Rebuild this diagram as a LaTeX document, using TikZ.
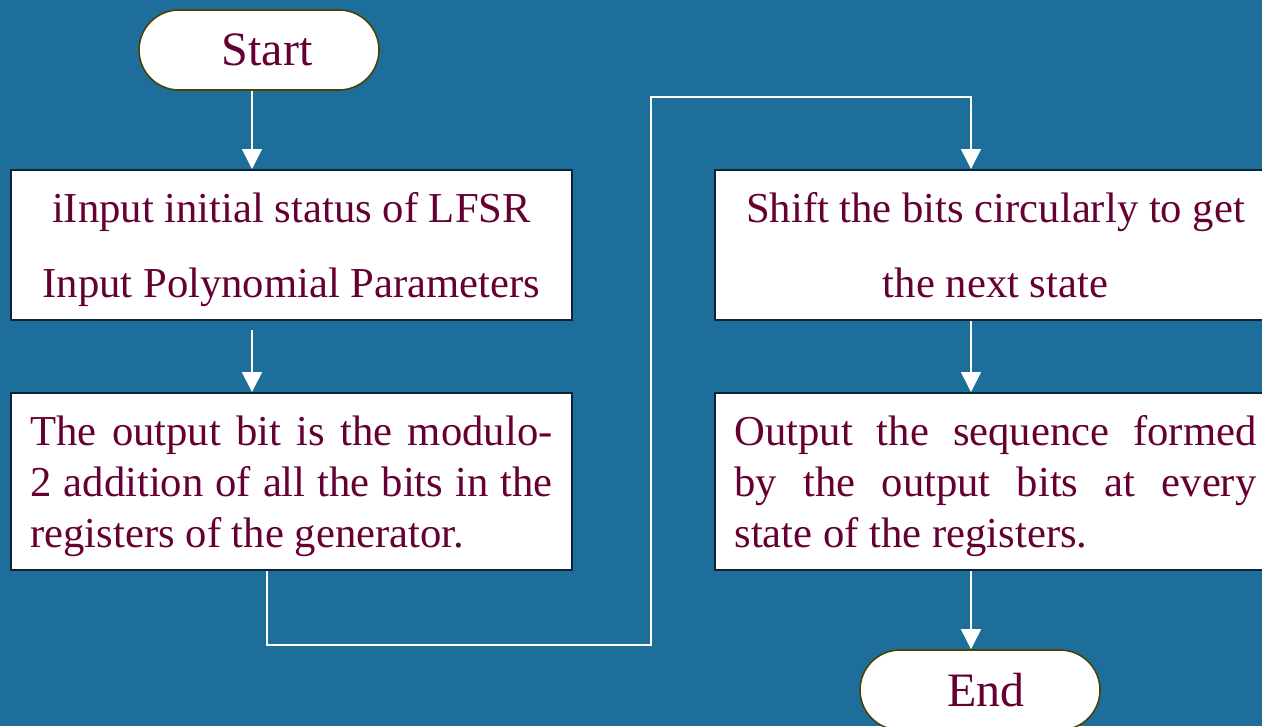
\documentclass[tikz,border=0pt]{standalone}
\usepackage{fontspec}
\setmainfont{Liberation Serif}
\usetikzlibrary{arrows.meta}
\definecolor{bg}{HTML}{1D6E9A}
\definecolor{ink}{HTML}{660033}
\definecolor{capline}{HTML}{4A4200}
\definecolor{boxline}{HTML}{0D2438}

% a line set flush to both margins of a step box
\newcommand{\fullline}[1]{\makebox[391.5pt][s]{\spaceskip=.25em plus .6em minus .1em\relax #1}}
% fixed line extent so every box places its lines the same way
\newcommand{\topstrut}{\rule{0pt}{30pt}}
\newcommand{\botstrut}{\rule[-7.5pt]{0pt}{7.5pt}}

\begin{document}
\begin{tikzpicture}[x=0.75pt,y=-0.75pt,
  terminal/.style={draw=capline, line width=1.2pt, fill=white, rounded corners=30pt,
    minimum width=180pt, minimum height=60pt, inner sep=0pt, text=ink,
    font=\fontsize{36}{40}\selectfont},
  stepbox/.style={draw=boxline, line width=1.5pt, fill=white, minimum width=420.75pt,
    inner sep=0pt, text=ink},
  flow/.style={draw=white, line width=1.2pt, -{Triangle[width=15pt,length=15pt]}},
  ]
  \useasboundingbox (0,0) rectangle (1262,726);
  \clip (0,0) rectangle (1262,726);
  \fill[bg] (0,0) rectangle (1262,726);

  % terminals
  \node[terminal] (start) at (259,50) {\hspace*{12pt}Start};
  \node[terminal] (end) at (980,690) {\hspace*{9pt}End};

  % process steps
  \node[stepbox, minimum height=112.5pt, align=center,
        font=\fontsize{32}{56.25}\selectfont] (init) at (291.5,245)
    {\spaceskip=0pt\topstrut iInput initial status of LFSR\\
     Input Polynomial Parameters\botstrut};
  \node[stepbox, minimum height=132.75pt, text width=391.5pt, align=left,
        font=\fontsize{32}{38.6}\selectfont] (xor) at (291.5,481.5)
    {\spaceskip=0pt\topstrut\fullline{The output bit is the modulo-}\\
     \fullline{2 addition of all the bits in the}\\
     registers of the generator.\botstrut};
  \node[stepbox, minimum height=112.5pt, align=center,
        font=\fontsize{32}{56.25}\selectfont] (shift) at (995.5,245)
    {\spaceskip=0pt\topstrut Shift the bits circularly to get\\
     the next state\botstrut};
  \node[stepbox, minimum height=132.75pt, text width=391.5pt, align=left,
        font=\fontsize{32}{38.6}\selectfont] (out) at (995.5,481.5)
    {\spaceskip=0pt\topstrut\fullline{Output the sequence formed}\\
     \fullline{by the output bits at every}\\
     state of the registers.\botstrut};

  % routing points
  \coordinate (a2) at (252,330);
  \coordinate (c1) at (267,645);
  \coordinate (c2) at (651,645);
  \coordinate (c3) at (651,97);
  \coordinate (c4) at (971,97);

  % connectors
  \draw[flow] ([xshift=-5.25pt]start.south) -- ([xshift=-5.25pt]start.south |- init.north);
  \draw[flow] (a2) -- (a2 |- xor.north);
  \draw[flow] (c1 |- xor.south) -- (c1) -- (c2) -- (c3) -- (c4) -- (c4 |- shift.north);
  \draw[flow] (c4 |- shift.south) -- (c4 |- out.north);
  \draw[flow] (c4 |- out.south) -- (c4 |- end.north);
\end{tikzpicture}
\end{document}
